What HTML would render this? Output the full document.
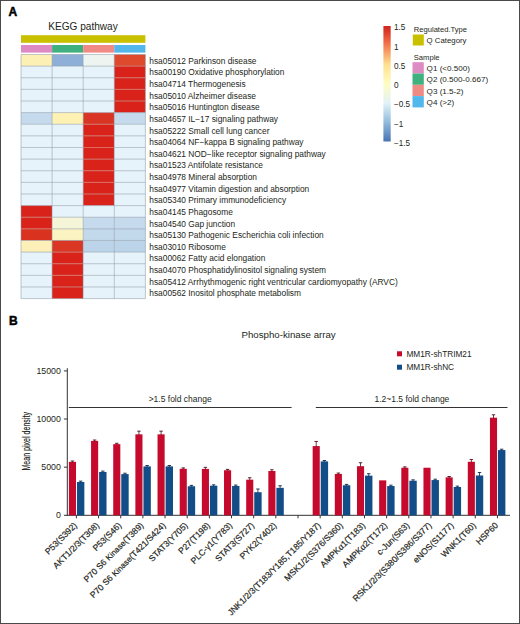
<!DOCTYPE html>
<html><head><meta charset="utf-8"><style>
html,body{margin:0;padding:0;background:#fff;}
body{width:520px;height:624px;overflow:hidden;}
.f{position:absolute;left:0;top:0;width:518px;height:622px;border:1px solid #4a4a4a;background:#fff;}
svg{position:absolute;left:0;top:0;font-family:"Liberation Sans", sans-serif;}
</style></head><body>
<div class="f"></div>
<svg width="520" height="624" viewBox="0 0 520 624">
<text x="83.0" y="29.6" font-size="10.1" text-anchor="middle" fill="#231f20">KEGG pathway</text>
<text x="8.6" y="15.7" font-size="12" font-weight="bold" fill="#000" stroke="#000" stroke-width="0.5">A</text>
<rect x="21.0" y="35.2" width="124.40" height="7.6" fill="#c9c000"/>
<rect x="21.00" y="45" width="31.10" height="7.6" fill="#de8ac3"/>
<rect x="52.10" y="45" width="31.10" height="7.6" fill="#3fb17e"/>
<rect x="83.20" y="45" width="31.10" height="7.6" fill="#f08a84"/>
<rect x="114.30" y="45" width="31.10" height="7.6" fill="#52b7ea"/>
<rect x="21.00" y="54.50" width="31.10" height="11.62" fill="#fdf0b4"/>
<rect x="52.10" y="54.50" width="31.10" height="11.62" fill="#8eb0d8"/>
<rect x="83.20" y="54.50" width="31.10" height="11.62" fill="#eef4f0"/>
<rect x="114.30" y="54.50" width="31.10" height="11.62" fill="#df4a2c"/>
<rect x="21.00" y="66.12" width="31.10" height="11.62" fill="#e6f3fa"/>
<rect x="52.10" y="66.12" width="31.10" height="11.62" fill="#e6f3fa"/>
<rect x="83.20" y="66.12" width="31.10" height="11.62" fill="#e6f3fa"/>
<rect x="114.30" y="66.12" width="31.10" height="11.62" fill="#d9221a"/>
<rect x="21.00" y="77.75" width="31.10" height="11.62" fill="#e6f3fa"/>
<rect x="52.10" y="77.75" width="31.10" height="11.62" fill="#e6f3fa"/>
<rect x="83.20" y="77.75" width="31.10" height="11.62" fill="#e6f3fa"/>
<rect x="114.30" y="77.75" width="31.10" height="11.62" fill="#d9221a"/>
<rect x="21.00" y="89.37" width="31.10" height="11.62" fill="#e6f3fa"/>
<rect x="52.10" y="89.37" width="31.10" height="11.62" fill="#e6f3fa"/>
<rect x="83.20" y="89.37" width="31.10" height="11.62" fill="#e6f3fa"/>
<rect x="114.30" y="89.37" width="31.10" height="11.62" fill="#d9221a"/>
<rect x="21.00" y="101.00" width="31.10" height="11.62" fill="#e6f3fa"/>
<rect x="52.10" y="101.00" width="31.10" height="11.62" fill="#e6f3fa"/>
<rect x="83.20" y="101.00" width="31.10" height="11.62" fill="#e6f3fa"/>
<rect x="114.30" y="101.00" width="31.10" height="11.62" fill="#d9221a"/>
<rect x="21.00" y="112.62" width="31.10" height="11.62" fill="#c5daec"/>
<rect x="52.10" y="112.62" width="31.10" height="11.62" fill="#fdf2b4"/>
<rect x="83.20" y="112.62" width="31.10" height="11.62" fill="#da3524"/>
<rect x="114.30" y="112.62" width="31.10" height="11.62" fill="#c5daec"/>
<rect x="21.00" y="124.24" width="31.10" height="11.62" fill="#e6f3fa"/>
<rect x="52.10" y="124.24" width="31.10" height="11.62" fill="#e6f3fa"/>
<rect x="83.20" y="124.24" width="31.10" height="11.62" fill="#d9221a"/>
<rect x="114.30" y="124.24" width="31.10" height="11.62" fill="#e6f3fa"/>
<rect x="21.00" y="135.87" width="31.10" height="11.62" fill="#e6f3fa"/>
<rect x="52.10" y="135.87" width="31.10" height="11.62" fill="#e6f3fa"/>
<rect x="83.20" y="135.87" width="31.10" height="11.62" fill="#d9221a"/>
<rect x="114.30" y="135.87" width="31.10" height="11.62" fill="#e6f3fa"/>
<rect x="21.00" y="147.49" width="31.10" height="11.62" fill="#e6f3fa"/>
<rect x="52.10" y="147.49" width="31.10" height="11.62" fill="#e6f3fa"/>
<rect x="83.20" y="147.49" width="31.10" height="11.62" fill="#d9221a"/>
<rect x="114.30" y="147.49" width="31.10" height="11.62" fill="#e6f3fa"/>
<rect x="21.00" y="159.11" width="31.10" height="11.62" fill="#e6f3fa"/>
<rect x="52.10" y="159.11" width="31.10" height="11.62" fill="#e6f3fa"/>
<rect x="83.20" y="159.11" width="31.10" height="11.62" fill="#d9221a"/>
<rect x="114.30" y="159.11" width="31.10" height="11.62" fill="#e6f3fa"/>
<rect x="21.00" y="170.74" width="31.10" height="11.62" fill="#e6f3fa"/>
<rect x="52.10" y="170.74" width="31.10" height="11.62" fill="#e6f3fa"/>
<rect x="83.20" y="170.74" width="31.10" height="11.62" fill="#d9221a"/>
<rect x="114.30" y="170.74" width="31.10" height="11.62" fill="#e6f3fa"/>
<rect x="21.00" y="182.36" width="31.10" height="11.62" fill="#e6f3fa"/>
<rect x="52.10" y="182.36" width="31.10" height="11.62" fill="#e6f3fa"/>
<rect x="83.20" y="182.36" width="31.10" height="11.62" fill="#d9221a"/>
<rect x="114.30" y="182.36" width="31.10" height="11.62" fill="#e6f3fa"/>
<rect x="21.00" y="193.99" width="31.10" height="11.62" fill="#e6f3fa"/>
<rect x="52.10" y="193.99" width="31.10" height="11.62" fill="#e6f3fa"/>
<rect x="83.20" y="193.99" width="31.10" height="11.62" fill="#d9221a"/>
<rect x="114.30" y="193.99" width="31.10" height="11.62" fill="#e6f3fa"/>
<rect x="21.00" y="205.61" width="31.10" height="11.62" fill="#d9221a"/>
<rect x="52.10" y="205.61" width="31.10" height="11.62" fill="#e6f3fa"/>
<rect x="83.20" y="205.61" width="31.10" height="11.62" fill="#e6f3fa"/>
<rect x="114.30" y="205.61" width="31.10" height="11.62" fill="#e6f3fa"/>
<rect x="21.00" y="217.23" width="31.10" height="11.62" fill="#d9221a"/>
<rect x="52.10" y="217.23" width="31.10" height="11.62" fill="#f5f5d8"/>
<rect x="83.20" y="217.23" width="31.10" height="11.62" fill="#c5daec"/>
<rect x="114.30" y="217.23" width="31.10" height="11.62" fill="#c5daec"/>
<rect x="21.00" y="228.86" width="31.10" height="11.62" fill="#d9321f"/>
<rect x="52.10" y="228.86" width="31.10" height="11.62" fill="#fcf3c2"/>
<rect x="83.20" y="228.86" width="31.10" height="11.62" fill="#c2d8eb"/>
<rect x="114.30" y="228.86" width="31.10" height="11.62" fill="#c2d8eb"/>
<rect x="21.00" y="240.48" width="31.10" height="11.62" fill="#fcefb8"/>
<rect x="52.10" y="240.48" width="31.10" height="11.62" fill="#da3624"/>
<rect x="83.20" y="240.48" width="31.10" height="11.62" fill="#bcd4ea"/>
<rect x="114.30" y="240.48" width="31.10" height="11.62" fill="#bcd4ea"/>
<rect x="21.00" y="252.10" width="31.10" height="11.62" fill="#e6f3fa"/>
<rect x="52.10" y="252.10" width="31.10" height="11.62" fill="#d9221a"/>
<rect x="83.20" y="252.10" width="31.10" height="11.62" fill="#e6f3fa"/>
<rect x="114.30" y="252.10" width="31.10" height="11.62" fill="#e6f3fa"/>
<rect x="21.00" y="263.73" width="31.10" height="11.62" fill="#e6f3fa"/>
<rect x="52.10" y="263.73" width="31.10" height="11.62" fill="#d9221a"/>
<rect x="83.20" y="263.73" width="31.10" height="11.62" fill="#e6f3fa"/>
<rect x="114.30" y="263.73" width="31.10" height="11.62" fill="#e6f3fa"/>
<rect x="21.00" y="275.35" width="31.10" height="11.62" fill="#e6f3fa"/>
<rect x="52.10" y="275.35" width="31.10" height="11.62" fill="#d9221a"/>
<rect x="83.20" y="275.35" width="31.10" height="11.62" fill="#e6f3fa"/>
<rect x="114.30" y="275.35" width="31.10" height="11.62" fill="#e6f3fa"/>
<rect x="21.00" y="286.98" width="31.10" height="11.62" fill="#e6f3fa"/>
<rect x="52.10" y="286.98" width="31.10" height="11.62" fill="#d9221a"/>
<rect x="83.20" y="286.98" width="31.10" height="11.62" fill="#e6f3fa"/>
<rect x="114.30" y="286.98" width="31.10" height="11.62" fill="#e6f3fa"/>
<line x1="21.00" y1="54.50" x2="145.40" y2="54.50" stroke="#909ba7" stroke-width="0.55"/>
<line x1="21.00" y1="66.12" x2="145.40" y2="66.12" stroke="#909ba7" stroke-width="0.55"/>
<line x1="21.00" y1="77.75" x2="145.40" y2="77.75" stroke="#909ba7" stroke-width="0.55"/>
<line x1="21.00" y1="89.37" x2="145.40" y2="89.37" stroke="#909ba7" stroke-width="0.55"/>
<line x1="21.00" y1="101.00" x2="145.40" y2="101.00" stroke="#909ba7" stroke-width="0.55"/>
<line x1="21.00" y1="112.62" x2="145.40" y2="112.62" stroke="#909ba7" stroke-width="0.55"/>
<line x1="21.00" y1="124.24" x2="145.40" y2="124.24" stroke="#909ba7" stroke-width="0.55"/>
<line x1="21.00" y1="135.87" x2="145.40" y2="135.87" stroke="#909ba7" stroke-width="0.55"/>
<line x1="21.00" y1="147.49" x2="145.40" y2="147.49" stroke="#909ba7" stroke-width="0.55"/>
<line x1="21.00" y1="159.11" x2="145.40" y2="159.11" stroke="#909ba7" stroke-width="0.55"/>
<line x1="21.00" y1="170.74" x2="145.40" y2="170.74" stroke="#909ba7" stroke-width="0.55"/>
<line x1="21.00" y1="182.36" x2="145.40" y2="182.36" stroke="#909ba7" stroke-width="0.55"/>
<line x1="21.00" y1="193.99" x2="145.40" y2="193.99" stroke="#909ba7" stroke-width="0.55"/>
<line x1="21.00" y1="205.61" x2="145.40" y2="205.61" stroke="#909ba7" stroke-width="0.55"/>
<line x1="21.00" y1="217.23" x2="145.40" y2="217.23" stroke="#909ba7" stroke-width="0.55"/>
<line x1="21.00" y1="228.86" x2="145.40" y2="228.86" stroke="#909ba7" stroke-width="0.55"/>
<line x1="21.00" y1="240.48" x2="145.40" y2="240.48" stroke="#909ba7" stroke-width="0.55"/>
<line x1="21.00" y1="252.10" x2="145.40" y2="252.10" stroke="#909ba7" stroke-width="0.55"/>
<line x1="21.00" y1="263.73" x2="145.40" y2="263.73" stroke="#909ba7" stroke-width="0.55"/>
<line x1="21.00" y1="275.35" x2="145.40" y2="275.35" stroke="#909ba7" stroke-width="0.55"/>
<line x1="21.00" y1="286.98" x2="145.40" y2="286.98" stroke="#909ba7" stroke-width="0.55"/>
<line x1="21.00" y1="298.60" x2="145.40" y2="298.60" stroke="#909ba7" stroke-width="0.55"/>
<line x1="21.00" y1="54.50" x2="21.00" y2="298.60" stroke="#909ba7" stroke-width="0.55"/>
<line x1="52.10" y1="54.50" x2="52.10" y2="298.60" stroke="#909ba7" stroke-width="0.55"/>
<line x1="83.20" y1="54.50" x2="83.20" y2="298.60" stroke="#909ba7" stroke-width="0.55"/>
<line x1="114.30" y1="54.50" x2="114.30" y2="298.60" stroke="#909ba7" stroke-width="0.55"/>
<line x1="145.40" y1="54.50" x2="145.40" y2="298.60" stroke="#909ba7" stroke-width="0.55"/>
<line x1="114.70" y1="66.12" x2="145.00" y2="66.12" stroke="#ee6450" stroke-width="0.7"/>
<line x1="114.70" y1="77.75" x2="145.00" y2="77.75" stroke="#ee6450" stroke-width="0.7"/>
<line x1="114.70" y1="89.37" x2="145.00" y2="89.37" stroke="#ee6450" stroke-width="0.7"/>
<line x1="114.70" y1="101.00" x2="145.00" y2="101.00" stroke="#ee6450" stroke-width="0.7"/>
<line x1="83.60" y1="124.24" x2="113.90" y2="124.24" stroke="#ee6450" stroke-width="0.7"/>
<line x1="83.60" y1="135.87" x2="113.90" y2="135.87" stroke="#ee6450" stroke-width="0.7"/>
<line x1="83.60" y1="147.49" x2="113.90" y2="147.49" stroke="#ee6450" stroke-width="0.7"/>
<line x1="83.60" y1="159.11" x2="113.90" y2="159.11" stroke="#ee6450" stroke-width="0.7"/>
<line x1="83.60" y1="170.74" x2="113.90" y2="170.74" stroke="#ee6450" stroke-width="0.7"/>
<line x1="83.60" y1="182.36" x2="113.90" y2="182.36" stroke="#ee6450" stroke-width="0.7"/>
<line x1="83.60" y1="193.99" x2="113.90" y2="193.99" stroke="#ee6450" stroke-width="0.7"/>
<line x1="21.40" y1="217.23" x2="51.70" y2="217.23" stroke="#ee6450" stroke-width="0.7"/>
<line x1="21.40" y1="228.86" x2="51.70" y2="228.86" stroke="#ee6450" stroke-width="0.7"/>
<line x1="52.50" y1="252.10" x2="82.80" y2="252.10" stroke="#ee6450" stroke-width="0.7"/>
<line x1="52.50" y1="263.73" x2="82.80" y2="263.73" stroke="#ee6450" stroke-width="0.7"/>
<line x1="52.50" y1="275.35" x2="82.80" y2="275.35" stroke="#ee6450" stroke-width="0.7"/>
<line x1="52.50" y1="286.98" x2="82.80" y2="286.98" stroke="#ee6450" stroke-width="0.7"/>
<text x="149.3" y="63.81" font-size="8.35" fill="#231f20">hsa05012 Parkinson disease</text>
<text x="149.3" y="75.44" font-size="8.35" fill="#231f20">hsa00190 Oxidative phosphorylation</text>
<text x="149.3" y="87.06" font-size="8.35" fill="#231f20">hsa04714 Thermogenesis</text>
<text x="149.3" y="98.68" font-size="8.35" fill="#231f20">hsa05010 Alzheimer disease</text>
<text x="149.3" y="110.31" font-size="8.35" fill="#231f20">hsa05016 Huntington disease</text>
<text x="149.3" y="121.93" font-size="8.35" fill="#231f20">hsa04657 IL−17 signaling pathway</text>
<text x="149.3" y="133.55" font-size="8.35" fill="#231f20">hsa05222 Small cell lung cancer</text>
<text x="149.3" y="145.18" font-size="8.35" fill="#231f20">hsa04064 NF−kappa B signaling pathway</text>
<text x="149.3" y="156.80" font-size="8.35" fill="#231f20">hsa04621 NOD−like receptor signaling pathway</text>
<text x="149.3" y="168.43" font-size="8.35" fill="#231f20">hsa01523 Antifolate resistance</text>
<text x="149.3" y="180.05" font-size="8.35" fill="#231f20">hsa04978 Mineral absorption</text>
<text x="149.3" y="191.67" font-size="8.35" fill="#231f20">hsa04977 Vitamin digestion and absorption</text>
<text x="149.3" y="203.30" font-size="8.35" fill="#231f20">hsa05340 Primary immunodeficiency</text>
<text x="149.3" y="214.92" font-size="8.35" fill="#231f20">hsa04145 Phagosome</text>
<text x="149.3" y="226.55" font-size="8.35" fill="#231f20">hsa04540 Gap junction</text>
<text x="149.3" y="238.17" font-size="8.35" fill="#231f20">hsa05130 Pathogenic Escherichia coli infection</text>
<text x="149.3" y="249.79" font-size="8.35" fill="#231f20">hsa03010 Ribosome</text>
<text x="149.3" y="261.42" font-size="8.35" fill="#231f20">hsa00062 Fatty acid elongation</text>
<text x="149.3" y="273.04" font-size="8.35" fill="#231f20">hsa04070 Phosphatidylinositol signaling system</text>
<text x="149.3" y="284.66" font-size="8.35" fill="#231f20">hsa05412 Arrhythmogenic right ventricular cardiomyopathy (ARVC)</text>
<text x="149.3" y="296.29" font-size="8.35" fill="#231f20">hsa00562 Inositol phosphate metabolism</text>
<defs><linearGradient id="cb" x1="0" y1="0" x2="0" y2="1"><stop offset="0" stop-color="#cf2720"/><stop offset="0.04" stop-color="#d93526"/><stop offset="0.1667" stop-color="#f47a4e"/><stop offset="0.3333" stop-color="#fde08e"/><stop offset="0.5" stop-color="#fffdc4"/><stop offset="0.6667" stop-color="#e2f2f7"/><stop offset="0.8333" stop-color="#91bcdb"/><stop offset="1" stop-color="#4673b2"/></linearGradient></defs>
<rect x="383.4" y="26" width="7.3" height="115.5" fill="url(#cb)"/>
<text x="393.9" y="30.3" font-size="8.2" fill="#231f20">1.5</text>
<text x="393.9" y="49.7" font-size="8.2" fill="#231f20">1</text>
<text x="393.9" y="69.0" font-size="8.2" fill="#231f20">0.5</text>
<text x="393.9" y="88.1" font-size="8.2" fill="#231f20">0</text>
<text x="393.9" y="107.3" font-size="8.2" fill="#231f20">−0.5</text>
<text x="393.9" y="126.5" font-size="8.2" fill="#231f20">−1</text>
<text x="393.9" y="145.5" font-size="8.2" fill="#231f20">−1.5</text>
<text x="413.8" y="32.2" font-size="7.6" fill="#231f20">Regulated.Type</text>
<rect x="412.8" y="34.5" width="11.0" height="11.0" fill="#c9c000"/>
<text x="426.6" y="43.2" font-size="7.8" fill="#231f20">Q Category</text>
<text x="413.8" y="59.7" font-size="7.6" fill="#231f20">Sample</text>
<rect x="412.5" y="62.20" width="11.3" height="11.3" fill="#de8ac3"/>
<text x="426.6" y="70.90" font-size="8.1" fill="#231f20">Q1 (&lt;0.500)</text>
<rect x="412.5" y="73.50" width="11.3" height="11.3" fill="#3fb17e"/>
<text x="426.6" y="82.20" font-size="8.1" fill="#231f20">Q2 (0.500-0.667)</text>
<rect x="412.5" y="84.80" width="11.3" height="11.3" fill="#f08a84"/>
<text x="426.6" y="93.50" font-size="8.1" fill="#231f20">Q3 (1.5-2)</text>
<rect x="412.5" y="96.10" width="11.3" height="11.3" fill="#52b7ea"/>
<text x="426.6" y="104.80" font-size="8.1" fill="#231f20">Q4 (&gt;2)</text>
<text x="9" y="324.6" font-size="12" font-weight="bold" fill="#000" stroke="#000" stroke-width="0.5">B</text>
<text x="288.6" y="338.3" font-size="9.7" text-anchor="middle" fill="#231f20">Phospho-kinase array</text>
<rect x="397" y="351.3" width="5" height="5" fill="#c50a2d"/>
<text x="406.4" y="356.7" font-size="8.25" fill="#231f20">MM1R-shTRIM21</text>
<rect x="397" y="364.7" width="5" height="5" fill="#134d88"/>
<text x="406.4" y="370.1" font-size="8.25" fill="#231f20">MM1R-shNC</text>
<line x1="67.3" y1="368.2" x2="67.3" y2="515.80" stroke="#333" stroke-width="1"/>
<line x1="64.00" y1="370.90" x2="67.3" y2="370.90" stroke="#333" stroke-width="1"/>
<text x="60.9" y="373.90" font-size="8.8" text-anchor="end" fill="#231f20">15000</text>
<line x1="64.00" y1="419.03" x2="67.3" y2="419.03" stroke="#333" stroke-width="1"/>
<text x="60.9" y="422.03" font-size="8.8" text-anchor="end" fill="#231f20">10000</text>
<line x1="64.00" y1="467.17" x2="67.3" y2="467.17" stroke="#333" stroke-width="1"/>
<text x="60.9" y="470.17" font-size="8.8" text-anchor="end" fill="#231f20">5000</text>
<line x1="64.00" y1="515.30" x2="67.3" y2="515.30" stroke="#333" stroke-width="1"/>
<text x="60.9" y="518.30" font-size="8.8" text-anchor="end" fill="#231f20">0</text>
<text transform="translate(29.9,441.3) rotate(-90) scale(0.68,1)" font-size="10.4" text-anchor="middle" fill="#231f20" stroke="#231f20" stroke-width="0.18">Mean pixel density</text>
<line x1="66.80" y1="515.30" x2="510" y2="515.30" stroke="#333" stroke-width="1"/>
<line x1="76.40" y1="515.30" x2="76.40" y2="518.30" stroke="#333" stroke-width="1"/>
<rect x="68.90" y="461.87" width="7.1" height="53.43" fill="#c50a2d"/>
<rect x="76.95" y="481.99" width="7.4" height="33.31" fill="#134d88"/>
<line x1="72.45" y1="461.01" x2="72.45" y2="462.37" stroke="#4a0d16" stroke-width="0.8"/>
<line x1="70.75" y1="461.01" x2="74.15" y2="461.01" stroke="#4a0d16" stroke-width="0.9"/>
<line x1="80.65" y1="481.13" x2="80.65" y2="482.49" stroke="#0a2442" stroke-width="0.8"/>
<line x1="78.95" y1="481.13" x2="82.35" y2="481.13" stroke="#0a2442" stroke-width="0.9"/>
<text transform="translate(77.60,525.90) rotate(-45)" font-size="8.6" text-anchor="end" fill="#231f20" stroke="#231f20" stroke-width="0.2">P53(S392)</text>
<line x1="98.56" y1="515.30" x2="98.56" y2="518.30" stroke="#333" stroke-width="1"/>
<rect x="91.06" y="440.89" width="7.1" height="74.41" fill="#c50a2d"/>
<rect x="99.11" y="471.98" width="7.4" height="43.32" fill="#134d88"/>
<line x1="94.61" y1="440.02" x2="94.61" y2="441.39" stroke="#4a0d16" stroke-width="0.8"/>
<line x1="92.91" y1="440.02" x2="96.31" y2="440.02" stroke="#4a0d16" stroke-width="0.9"/>
<line x1="102.81" y1="471.11" x2="102.81" y2="472.48" stroke="#0a2442" stroke-width="0.8"/>
<line x1="101.11" y1="471.11" x2="104.51" y2="471.11" stroke="#0a2442" stroke-width="0.9"/>
<text transform="translate(99.76,525.90) rotate(-45)" font-size="8.6" text-anchor="end" fill="#231f20" stroke="#231f20" stroke-width="0.2">AKT1/2/3(T308)</text>
<line x1="120.72" y1="515.30" x2="120.72" y2="518.30" stroke="#333" stroke-width="1"/>
<rect x="113.22" y="444.16" width="7.1" height="71.14" fill="#c50a2d"/>
<rect x="121.27" y="474.10" width="7.4" height="41.20" fill="#134d88"/>
<line x1="116.77" y1="443.29" x2="116.77" y2="444.66" stroke="#4a0d16" stroke-width="0.8"/>
<line x1="115.07" y1="443.29" x2="118.47" y2="443.29" stroke="#4a0d16" stroke-width="0.9"/>
<line x1="124.97" y1="473.23" x2="124.97" y2="474.60" stroke="#0a2442" stroke-width="0.8"/>
<line x1="123.27" y1="473.23" x2="126.67" y2="473.23" stroke="#0a2442" stroke-width="0.9"/>
<text transform="translate(121.92,525.90) rotate(-45)" font-size="8.6" text-anchor="end" fill="#231f20" stroke="#231f20" stroke-width="0.2">P53(S46)</text>
<line x1="142.88" y1="515.30" x2="142.88" y2="518.30" stroke="#333" stroke-width="1"/>
<rect x="135.38" y="434.34" width="7.1" height="80.96" fill="#c50a2d"/>
<rect x="143.43" y="466.40" width="7.4" height="48.90" fill="#134d88"/>
<line x1="138.93" y1="431.16" x2="138.93" y2="434.84" stroke="#4a0d16" stroke-width="0.8"/>
<line x1="137.23" y1="431.16" x2="140.63" y2="431.16" stroke="#4a0d16" stroke-width="0.9"/>
<line x1="147.13" y1="465.53" x2="147.13" y2="466.90" stroke="#0a2442" stroke-width="0.8"/>
<line x1="145.43" y1="465.53" x2="148.83" y2="465.53" stroke="#0a2442" stroke-width="0.9"/>
<text transform="translate(144.08,525.90) rotate(-45)" font-size="8.6" text-anchor="end" fill="#231f20" stroke="#231f20" stroke-width="0.2">P70 S6 <tspan font-size="8.0">Kinase</tspan>(T389)</text>
<line x1="165.04" y1="515.30" x2="165.04" y2="518.30" stroke="#333" stroke-width="1"/>
<rect x="157.54" y="434.34" width="7.1" height="80.96" fill="#c50a2d"/>
<rect x="165.59" y="466.40" width="7.4" height="48.90" fill="#134d88"/>
<line x1="161.09" y1="431.16" x2="161.09" y2="434.84" stroke="#4a0d16" stroke-width="0.8"/>
<line x1="159.39" y1="431.16" x2="162.79" y2="431.16" stroke="#4a0d16" stroke-width="0.9"/>
<line x1="169.29" y1="465.53" x2="169.29" y2="466.90" stroke="#0a2442" stroke-width="0.8"/>
<line x1="167.59" y1="465.53" x2="170.99" y2="465.53" stroke="#0a2442" stroke-width="0.9"/>
<text transform="translate(166.24,525.90) rotate(-45)" font-size="8.6" text-anchor="end" fill="#231f20" stroke="#231f20" stroke-width="0.2">P70 S6 <tspan font-size="8.0">Kinase</tspan>(T421/S424)</text>
<line x1="187.20" y1="515.30" x2="187.20" y2="518.30" stroke="#333" stroke-width="1"/>
<rect x="179.70" y="468.76" width="7.1" height="46.54" fill="#c50a2d"/>
<rect x="187.75" y="486.25" width="7.4" height="29.05" fill="#134d88"/>
<line x1="183.25" y1="467.89" x2="183.25" y2="469.26" stroke="#4a0d16" stroke-width="0.8"/>
<line x1="181.55" y1="467.89" x2="184.95" y2="467.89" stroke="#4a0d16" stroke-width="0.9"/>
<line x1="191.45" y1="485.38" x2="191.45" y2="486.75" stroke="#0a2442" stroke-width="0.8"/>
<line x1="189.75" y1="485.38" x2="193.15" y2="485.38" stroke="#0a2442" stroke-width="0.9"/>
<text transform="translate(188.40,525.90) rotate(-45)" font-size="8.6" text-anchor="end" fill="#231f20" stroke="#231f20" stroke-width="0.2">STAT3(Y705)</text>
<line x1="209.36" y1="515.30" x2="209.36" y2="518.30" stroke="#333" stroke-width="1"/>
<rect x="201.86" y="468.90" width="7.1" height="46.40" fill="#c50a2d"/>
<rect x="209.91" y="485.70" width="7.4" height="29.60" fill="#134d88"/>
<line x1="205.41" y1="467.36" x2="205.41" y2="469.40" stroke="#4a0d16" stroke-width="0.8"/>
<line x1="203.71" y1="467.36" x2="207.11" y2="467.36" stroke="#4a0d16" stroke-width="0.9"/>
<line x1="213.61" y1="484.83" x2="213.61" y2="486.20" stroke="#0a2442" stroke-width="0.8"/>
<line x1="211.91" y1="484.83" x2="215.31" y2="484.83" stroke="#0a2442" stroke-width="0.9"/>
<text transform="translate(210.56,525.90) rotate(-45)" font-size="8.6" text-anchor="end" fill="#231f20" stroke="#231f20" stroke-width="0.2">P27(T198)</text>
<line x1="231.52" y1="515.30" x2="231.52" y2="518.30" stroke="#333" stroke-width="1"/>
<rect x="224.02" y="470.25" width="7.1" height="45.05" fill="#c50a2d"/>
<rect x="232.07" y="485.94" width="7.4" height="29.36" fill="#134d88"/>
<line x1="227.57" y1="469.38" x2="227.57" y2="470.75" stroke="#4a0d16" stroke-width="0.8"/>
<line x1="225.87" y1="469.38" x2="229.27" y2="469.38" stroke="#4a0d16" stroke-width="0.9"/>
<line x1="235.77" y1="485.07" x2="235.77" y2="486.44" stroke="#0a2442" stroke-width="0.8"/>
<line x1="234.07" y1="485.07" x2="237.47" y2="485.07" stroke="#0a2442" stroke-width="0.9"/>
<text transform="translate(232.72,525.90) rotate(-45)" font-size="8.6" text-anchor="end" fill="#231f20" stroke="#231f20" stroke-width="0.2">PLC-γ1(Y783)</text>
<line x1="253.68" y1="515.30" x2="253.68" y2="518.30" stroke="#333" stroke-width="1"/>
<rect x="246.18" y="479.68" width="7.1" height="35.62" fill="#c50a2d"/>
<rect x="254.23" y="492.20" width="7.4" height="23.10" fill="#134d88"/>
<line x1="249.73" y1="477.76" x2="249.73" y2="480.18" stroke="#4a0d16" stroke-width="0.8"/>
<line x1="248.03" y1="477.76" x2="251.43" y2="477.76" stroke="#4a0d16" stroke-width="0.9"/>
<line x1="257.93" y1="489.02" x2="257.93" y2="492.70" stroke="#0a2442" stroke-width="0.8"/>
<line x1="256.23" y1="489.02" x2="259.63" y2="489.02" stroke="#0a2442" stroke-width="0.9"/>
<text transform="translate(254.88,525.90) rotate(-45)" font-size="8.6" text-anchor="end" fill="#231f20" stroke="#231f20" stroke-width="0.2">STAT3(S727)</text>
<line x1="275.84" y1="515.30" x2="275.84" y2="518.30" stroke="#333" stroke-width="1"/>
<rect x="268.34" y="471.02" width="7.1" height="44.28" fill="#c50a2d"/>
<rect x="276.39" y="487.86" width="7.4" height="27.44" fill="#134d88"/>
<line x1="271.89" y1="469.77" x2="271.89" y2="471.52" stroke="#4a0d16" stroke-width="0.8"/>
<line x1="270.19" y1="469.77" x2="273.59" y2="469.77" stroke="#4a0d16" stroke-width="0.9"/>
<line x1="280.09" y1="485.75" x2="280.09" y2="488.36" stroke="#0a2442" stroke-width="0.8"/>
<line x1="278.39" y1="485.75" x2="281.79" y2="485.75" stroke="#0a2442" stroke-width="0.9"/>
<text transform="translate(277.04,525.90) rotate(-45)" font-size="8.6" text-anchor="end" fill="#231f20" stroke="#231f20" stroke-width="0.2">PYK2(Y402)</text>
<line x1="298.00" y1="515.30" x2="298.00" y2="518.30" stroke="#333" stroke-width="1"/>
<line x1="320.16" y1="515.30" x2="320.16" y2="518.30" stroke="#333" stroke-width="1"/>
<rect x="312.66" y="446.08" width="7.1" height="69.22" fill="#c50a2d"/>
<rect x="320.71" y="461.39" width="7.4" height="53.91" fill="#134d88"/>
<line x1="316.21" y1="441.46" x2="316.21" y2="446.58" stroke="#4a0d16" stroke-width="0.8"/>
<line x1="314.51" y1="441.46" x2="317.91" y2="441.46" stroke="#4a0d16" stroke-width="0.9"/>
<line x1="324.41" y1="460.52" x2="324.41" y2="461.89" stroke="#0a2442" stroke-width="0.8"/>
<line x1="322.71" y1="460.52" x2="326.11" y2="460.52" stroke="#0a2442" stroke-width="0.9"/>
<text transform="translate(321.36,525.90) rotate(-45)" font-size="8.6" text-anchor="end" fill="#231f20" stroke="#231f20" stroke-width="0.2">JNK1/2/3(T183/Y185,T185/Y187)</text>
<line x1="342.32" y1="515.30" x2="342.32" y2="518.30" stroke="#333" stroke-width="1"/>
<rect x="334.82" y="473.91" width="7.1" height="41.39" fill="#c50a2d"/>
<rect x="342.87" y="485.26" width="7.4" height="30.04" fill="#134d88"/>
<line x1="338.37" y1="473.04" x2="338.37" y2="474.41" stroke="#4a0d16" stroke-width="0.8"/>
<line x1="336.67" y1="473.04" x2="340.07" y2="473.04" stroke="#4a0d16" stroke-width="0.9"/>
<line x1="346.57" y1="484.40" x2="346.57" y2="485.76" stroke="#0a2442" stroke-width="0.8"/>
<line x1="344.87" y1="484.40" x2="348.27" y2="484.40" stroke="#0a2442" stroke-width="0.9"/>
<text transform="translate(343.52,525.90) rotate(-45)" font-size="8.6" text-anchor="end" fill="#231f20" stroke="#231f20" stroke-width="0.2">MSK1/2(S376/S360)</text>
<line x1="364.48" y1="515.30" x2="364.48" y2="518.30" stroke="#333" stroke-width="1"/>
<rect x="356.98" y="466.20" width="7.1" height="49.10" fill="#c50a2d"/>
<rect x="365.03" y="475.64" width="7.4" height="39.66" fill="#134d88"/>
<line x1="360.53" y1="462.74" x2="360.53" y2="466.70" stroke="#4a0d16" stroke-width="0.8"/>
<line x1="358.83" y1="462.74" x2="362.23" y2="462.74" stroke="#4a0d16" stroke-width="0.9"/>
<line x1="368.73" y1="473.71" x2="368.73" y2="476.14" stroke="#0a2442" stroke-width="0.8"/>
<line x1="367.03" y1="473.71" x2="370.43" y2="473.71" stroke="#0a2442" stroke-width="0.9"/>
<text transform="translate(365.68,525.90) rotate(-45)" font-size="8.6" text-anchor="end" fill="#231f20" stroke="#231f20" stroke-width="0.2">AMPKα1(T183)</text>
<line x1="386.64" y1="515.30" x2="386.64" y2="518.30" stroke="#333" stroke-width="1"/>
<rect x="379.14" y="480.36" width="7.1" height="34.94" fill="#c50a2d"/>
<rect x="387.19" y="486.03" width="7.4" height="29.27" fill="#134d88"/>
<line x1="390.89" y1="485.17" x2="390.89" y2="486.53" stroke="#0a2442" stroke-width="0.8"/>
<line x1="389.19" y1="485.17" x2="392.59" y2="485.17" stroke="#0a2442" stroke-width="0.9"/>
<text transform="translate(387.84,525.90) rotate(-45)" font-size="8.6" text-anchor="end" fill="#231f20" stroke="#231f20" stroke-width="0.2">AMPKα2(T172)</text>
<line x1="408.80" y1="515.30" x2="408.80" y2="518.30" stroke="#333" stroke-width="1"/>
<rect x="401.30" y="467.74" width="7.1" height="47.56" fill="#c50a2d"/>
<rect x="409.35" y="480.74" width="7.4" height="34.56" fill="#134d88"/>
<line x1="404.85" y1="466.88" x2="404.85" y2="468.24" stroke="#4a0d16" stroke-width="0.8"/>
<line x1="403.15" y1="466.88" x2="406.55" y2="466.88" stroke="#4a0d16" stroke-width="0.9"/>
<line x1="413.05" y1="479.87" x2="413.05" y2="481.24" stroke="#0a2442" stroke-width="0.8"/>
<line x1="411.35" y1="479.87" x2="414.75" y2="479.87" stroke="#0a2442" stroke-width="0.9"/>
<text transform="translate(410.00,525.90) rotate(-45)" font-size="8.6" text-anchor="end" fill="#231f20" stroke="#231f20" stroke-width="0.2">c-Jun(S63)</text>
<line x1="430.96" y1="515.30" x2="430.96" y2="518.30" stroke="#333" stroke-width="1"/>
<rect x="423.46" y="467.74" width="7.1" height="47.56" fill="#c50a2d"/>
<rect x="431.51" y="480.07" width="7.4" height="35.23" fill="#134d88"/>
<line x1="435.21" y1="479.20" x2="435.21" y2="480.57" stroke="#0a2442" stroke-width="0.8"/>
<line x1="433.51" y1="479.20" x2="436.91" y2="479.20" stroke="#0a2442" stroke-width="0.9"/>
<text transform="translate(432.16,525.90) rotate(-45)" font-size="8.6" text-anchor="end" fill="#231f20" stroke="#231f20" stroke-width="0.2">RSK1/2/3(S380/S386/S377)</text>
<line x1="453.12" y1="515.30" x2="453.12" y2="518.30" stroke="#333" stroke-width="1"/>
<rect x="445.62" y="477.37" width="7.1" height="37.93" fill="#c50a2d"/>
<rect x="453.67" y="487.00" width="7.4" height="28.30" fill="#134d88"/>
<line x1="449.17" y1="476.50" x2="449.17" y2="477.87" stroke="#4a0d16" stroke-width="0.8"/>
<line x1="447.47" y1="476.50" x2="450.87" y2="476.50" stroke="#4a0d16" stroke-width="0.9"/>
<line x1="457.37" y1="486.13" x2="457.37" y2="487.50" stroke="#0a2442" stroke-width="0.8"/>
<line x1="455.67" y1="486.13" x2="459.07" y2="486.13" stroke="#0a2442" stroke-width="0.9"/>
<text transform="translate(454.32,525.90) rotate(-45)" font-size="8.6" text-anchor="end" fill="#231f20" stroke="#231f20" stroke-width="0.2">eNOS(S1177)</text>
<line x1="475.28" y1="515.30" x2="475.28" y2="518.30" stroke="#333" stroke-width="1"/>
<rect x="467.78" y="461.78" width="7.1" height="53.52" fill="#c50a2d"/>
<rect x="475.83" y="475.50" width="7.4" height="39.80" fill="#134d88"/>
<line x1="471.33" y1="459.56" x2="471.33" y2="462.28" stroke="#4a0d16" stroke-width="0.8"/>
<line x1="469.63" y1="459.56" x2="473.03" y2="459.56" stroke="#4a0d16" stroke-width="0.9"/>
<line x1="479.53" y1="472.52" x2="479.53" y2="476.00" stroke="#0a2442" stroke-width="0.8"/>
<line x1="477.83" y1="472.52" x2="481.23" y2="472.52" stroke="#0a2442" stroke-width="0.9"/>
<text transform="translate(476.48,525.90) rotate(-45)" font-size="8.6" text-anchor="end" fill="#231f20" stroke="#231f20" stroke-width="0.2">WNK1(T60)</text>
<line x1="497.44" y1="515.30" x2="497.44" y2="518.30" stroke="#333" stroke-width="1"/>
<rect x="489.94" y="417.69" width="7.1" height="97.61" fill="#c50a2d"/>
<rect x="497.99" y="450.08" width="7.4" height="65.22" fill="#134d88"/>
<line x1="493.49" y1="414.80" x2="493.49" y2="418.19" stroke="#4a0d16" stroke-width="0.8"/>
<line x1="491.79" y1="414.80" x2="495.19" y2="414.80" stroke="#4a0d16" stroke-width="0.9"/>
<line x1="501.69" y1="449.21" x2="501.69" y2="450.58" stroke="#0a2442" stroke-width="0.8"/>
<line x1="499.99" y1="449.21" x2="503.39" y2="449.21" stroke="#0a2442" stroke-width="0.9"/>
<text transform="translate(498.64,525.90) rotate(-45)" font-size="8.6" text-anchor="end" fill="#231f20" stroke="#231f20" stroke-width="0.2">HSP60</text>
<line x1="68.8" y1="407.5" x2="291.6" y2="407.5" stroke="#333" stroke-width="1"/>
<line x1="315.8" y1="407.5" x2="507.5" y2="407.5" stroke="#333" stroke-width="1"/>
<text x="180.2" y="402.2" font-size="8.5" text-anchor="middle" fill="#231f20">&gt;1.5 fold change</text>
<text x="411.9" y="402.2" font-size="8.5" text-anchor="middle" fill="#231f20">1.2~1.5 fold change</text>
</svg>
</body></html>
